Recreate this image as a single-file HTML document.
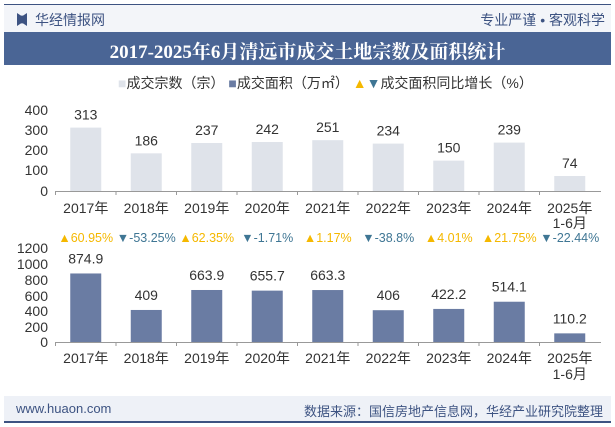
<!DOCTYPE html>
<html><head><meta charset="utf-8"><style>
body{margin:0;width:615px;height:427px;background:#fff;font-family:"Liberation Sans","Noto Sans CJK SC",sans-serif;overflow:hidden;position:relative}
.a{position:absolute}
</style></head><body>
<div class="a" style="left:4px;top:4px;width:607px;height:2px;background:#3d5382"></div>
<div class="a" style="left:4px;top:5px;width:607px;height:27px;background:#f3f5f9"></div>
<div class="a" style="left:17px;top:13px;width:10px;height:13px;background:#3d5382;clip-path:polygon(0 0,40% 20%,60% 20%,100% 0,100% 100%,60% 80%,40% 80%,0 100%)"></div>
<div class="a" style="left:35px;top:10px;font-size:14px;color:#3d5382">华经情报网</div>
<div class="a" style="right:10px;top:10px;font-size:14px;color:#3d5382">专业严谨 • 客观科学</div>
<div class="a" style="left:4px;top:32px;width:607px;height:33px;background:#4a6595"></div>
<div class="a" style="left:4px;top:37px;width:607px;text-align:center;font-size:19px;font-weight:bold;color:#fff;font-family:'Liberation Serif','Noto Serif CJK SC',serif">2017-2025年6月清远市成交土地宗数及面积统计</div>
<div class="a" style="left:118px;top:73px;font-size:14px;color:#333;white-space:nowrap"><span style="color:#dfe3ea">■</span>成交宗数（宗） <span style="color:#6a7ca3">■</span>成交面积（万㎡） <span style="color:#f5b800">▲</span><span style="color:#3f7694">▼</span>成交面积同比增长（%）</div>
<svg class="a" style="left:0;top:0" width="615" height="427" font-family="Liberation Sans,Noto Sans CJK SC,sans-serif" font-size="14">
<g fill="#333" text-anchor="end">
<text x="48" y="115">400</text><text x="48" y="135">300</text><text x="48" y="155">200</text><text x="48" y="175">100</text><text x="48" y="196">0</text>
<text x="48" y="253">1200</text><text x="48" y="269">1000</text><text x="48" y="285">800</text><text x="48" y="301">600</text><text x="48" y="316">400</text><text x="48" y="332">200</text><text x="48" y="347">0</text>
</g>
<line x1="55" y1="191.5" x2="601" y2="191.5" stroke="#999"/>
<line x1="55" y1="342.5" x2="601" y2="342.5" stroke="#999"/>
<g id="bars"></g>
</svg>
<div class="a" style="left:4px;top:396px;width:607px;height:25px;background:#eef1f7"></div>
<div class="a" style="left:4px;top:421px;width:607px;height:2px;background:#3d5382"></div>
<div class="a" style="left:16px;top:401px;font-size:13px;color:#3d5382">www.huaon.com</div>
<div class="a" style="right:12px;top:401px;font-size:13px;color:#3d5382">数据来源：国信房地产信息网，华经产业研究院整理</div>
<script>
var c=[313,186,237,242,251,234,150,239,74],a=[874.9,409,663.9,655.7,663.3,406,422.2,514.1,110.2],
g=["▲60.95%","▼-53.25%","▲62.35%","▼-1.71%","▲1.17%","▼-38.8%","▲4.01%","▲21.75%","▼-22.44%"];
var s="",w=60.5,x0=55.5;
for(var i=0;i<9;i++){var cx=x0+w*i+w/2;
var h=c[i]*0.2025;s+='<rect x="'+(cx-15.5)+'" y="'+(191-h)+'" width="31" height="'+h+'" fill="#dfe3ea"/>';
s+='<text x="'+cx+'" y="'+(191-h-8)+'" text-anchor="middle" fill="#333">'+c[i]+'</text>';
var h2=a[i]*94/1200;s+='<rect x="'+(cx-15.5)+'" y="'+(342-h2)+'" width="31" height="'+h2+'" fill="#6a7ca3"/>';
s+='<text x="'+cx+'" y="'+(342-h2-10)+'" text-anchor="middle" fill="#333">'+a[i]+'</text>';
s+='<text x="'+cx+'" y="242" text-anchor="middle" font-size="12.5" fill="'+(g[i][0]=="▲"?"#f5b800":"#3f7694")+'">'+g[i]+'</text>';
var lb=(2017+i)+"年";
s+='<text x="'+cx+'" y="213" text-anchor="middle" fill="#333">'+lb+'</text>';
s+='<text x="'+cx+'" y="363" text-anchor="middle" fill="#333">'+lb+'</text>';
s+='<line x1="'+(x0+w*i)+'" y1="191" x2="'+(x0+w*i)+'" y2="195" stroke="#999"/><line x1="'+(x0+w*i)+'" y1="342" x2="'+(x0+w*i)+'" y2="346" stroke="#999"/>';
}
var cx=x0+w*8+w/2;
s+='<text x="'+cx+'" y="228" text-anchor="middle" fill="#333">1-6月</text><text x="'+cx+'" y="379" text-anchor="middle" fill="#333">1-6月</text>';
document.getElementById('bars').innerHTML=s;
</script>
</body></html>
